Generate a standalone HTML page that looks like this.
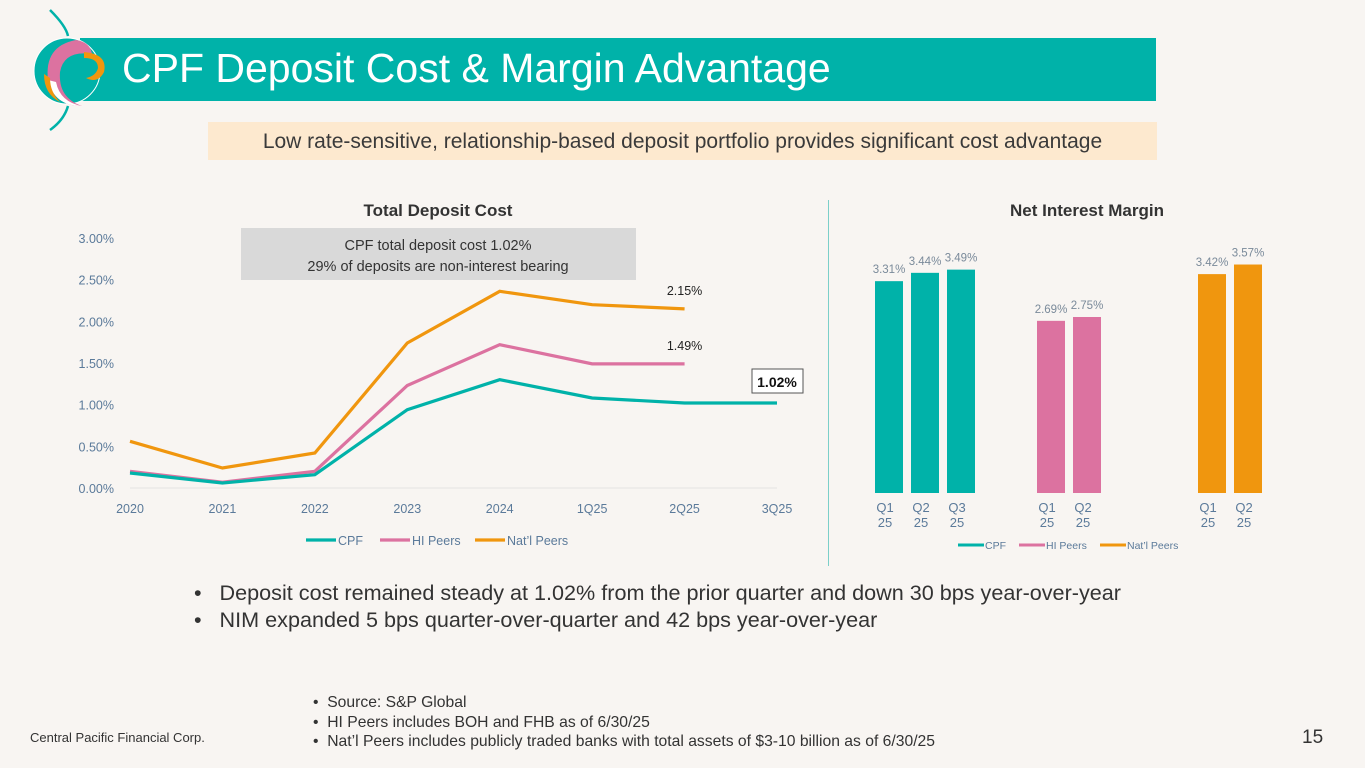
<!DOCTYPE html>
<html><head><meta charset="utf-8"><style>
body{margin:0;width:1365px;height:768px;background:#f8f5f2;font-family:"Liberation Sans",sans-serif;position:relative;overflow:hidden}
.abs{position:absolute}
</style></head><body>
<div class="abs" style="left:80px;top:38px;width:1076px;height:63px;background:#00b2a9"></div>
<svg class="abs" style="left:28px;top:8px" width="90" height="125" viewBox="0 0 90 125">
<path d="M22 2 Q38 18 40 28" stroke="#00b2a9" stroke-width="2.5" fill="none"/>
<path d="M22 122 Q36 112 40 98" stroke="#00b2a9" stroke-width="2.5" fill="none"/>
<circle cx="39" cy="63" r="33" fill="#00b2a9" stroke="#fff" stroke-width="1"/>
<path d="M48 32 Q16 38 20 72 Q26 98 54 98 Q30 90 32 64 Q36 42 64 46 Q62 34 48 32 Z" fill="#dc72a0"/>
<path d="M20 72 Q26 98 54 98 Q32 94 28 74 Z" fill="#fff"/>
<path d="M16 66 Q16 86 32 94 Q22 84 22 70 Z" fill="#f0960e"/>
<path d="M56 44 Q80 46 76 64 Q70 76 58 70 Q68 68 70 60 Q70 50 56 50 Z" fill="#f0960e"/>
<circle cx="58" cy="62" r="5" fill="#00b2a9"/>
</svg>
<div class="abs" style="left:122px;top:43px;color:#fff;font-size:41px;line-height:50px">CPF Deposit Cost &amp; Margin Advantage</div>
<div class="abs" style="left:208px;top:122px;width:949px;height:38px;background:#fde9cf;color:#3a3a3a;font-size:21px;line-height:40px;text-align:center">Low rate-sensitive, relationship-based deposit portfolio provides significant cost advantage</div>
<div class="abs" style="left:828px;top:200px;width:1px;height:366px;background:#7ccfc9"></div>

<svg class="abs" id="line" style="left:0;top:0" width="820" height="560"></svg>
<svg class="abs" id="bars" style="left:0;top:0;pointer-events:none" width="1365" height="560"></svg>

<div class="abs" style="left:194px;top:579px;font-size:21.6px;line-height:27px;color:#333">
<div>•&nbsp;&nbsp;&nbsp;Deposit cost remained steady at 1.02% from the prior quarter and down 30 bps year-over-year</div>
<div>•&nbsp;&nbsp;&nbsp;NIM expanded 5 bps quarter-over-quarter and 42 bps year-over-year</div></div>
<div class="abs" style="left:313px;top:693px;font-size:15.7px;line-height:19.5px;color:#333">
<div>•&nbsp;&nbsp;Source: S&amp;P Global</div><div>•&nbsp;&nbsp;HI Peers includes BOH and FHB as of 6/30/25</div><div>•&nbsp;&nbsp;Nat’l Peers includes publicly traded banks with total assets of $3-10 billion as of 6/30/25</div></div>
<div class="abs" style="left:30px;top:730px;font-size:13px;color:#333">Central Pacific Financial Corp.</div>
<div class="abs" style="left:1302px;top:727px;font-size:19px;color:#333">15</div>

<script>
const years=["2020","2021","2022","2023","2024","1Q25","2Q25","3Q25"];
const cpf=[0.18,0.06,0.16,0.94,1.30,1.08,1.02,1.02];
const hi=[0.20,0.07,0.20,1.23,1.72,1.49,1.49];
const natl=[0.56,0.24,0.42,1.74,2.36,2.20,2.15];
const yTicks=[0,0.5,1,1.5,2,2.5,3];
const nimCpf=[3.31,3.44,3.49];const nimCpfLbl=["Q1 25","Q2 25","Q3 25"];
const nimHi=[2.69,2.75];const nimHiLbl=["Q1 25","Q2 25"];
const nimNat=[3.42,3.57];const nimNatLbl=["Q1 25","Q2 25"];
const NS="http://www.w3.org/2000/svg";
function mk(svg,tag,a,txt){const e=document.createElementNS(NS,tag);for(const k in a)e.setAttribute(k,a[k]);if(txt!=null)e.textContent=txt;svg.appendChild(e);return e;}
const L=document.getElementById('line');
const x=i=>130+i*(647/7), y=v=>488-v*83.33;
let t=mk(L,'text',{x:438,y:216,'font-size':17,'text-anchor':'middle',fill:'#333','font-weight':'bold'},'Total Deposit Cost');


yTicks.forEach(v=>{const e=mk(L,'text',{x:114,y:y(v)+5,'font-size':12.5,'text-anchor':'end',fill:'#5b7a9a'},v.toFixed(2)+'%');

});
mk(L,'line',{x1:130,x2:777,y1:488,y2:488,stroke:'#e3e3e3','stroke-width':1});
years.forEach((s,i)=>{const e=mk(L,'text',{x:x(i),y:513,'font-size':12.5,'text-anchor':'middle',fill:'#5b7a9a'},s);

});
[[natl,'#f0960e','natl'],[hi,'#dc72a0','hi'],[cpf,'#00b2a9','cpf']].forEach(([d,c,n])=>{
const p=mk(L,'polyline',{points:d.map((v,i)=>x(i)+','+y(v)).join(' '),fill:'none',stroke:c,'stroke-width':3.2});

});
let a=mk(L,'text',{x:x(6),y:y(natl[6])-14,'font-size':12.5,'text-anchor':'middle',fill:'#222'},natl[6].toFixed(2)+'%');


a=mk(L,'text',{x:x(6),y:y(hi[6])-14,'font-size':12.5,'text-anchor':'middle',fill:'#222'},hi[6].toFixed(2)+'%');


mk(L,'rect',{x:752,y:y(cpf[7])-34,width:51,height:24,fill:'#fff',stroke:'#555'});
a=mk(L,'text',{x:777,y:y(cpf[7])-16,'font-size':14,'font-weight':'bold','text-anchor':'middle',fill:'#111'},cpf[7].toFixed(2)+'%');


const box=mk(L,'rect',{x:241,y:228,width:395,height:52,fill:'#d9d9d9'});


mk(L,'text',{x:438,y:250,'font-size':14.5,'text-anchor':'middle',fill:'#333'},'CPF total deposit cost 1.02%');
mk(L,'text',{x:438,y:271,'font-size':14.5,'text-anchor':'middle',fill:'#333'},'29% of deposits are non-interest bearing');
[['CPF','#00b2a9',306],['HI Peers','#dc72a0',380],['Nat’l Peers','#f0960e',475]].forEach(([n,c,lx])=>{
mk(L,'line',{x1:lx,x2:lx+30,y1:540,y2:540,stroke:c,'stroke-width':3.2});
const e=mk(L,'text',{x:lx+32,y:545,'font-size':12.5,fill:'#5b7a9a'},n);

});
const B=document.getElementById('bars');
const by=v=>493-v*64;
t=mk(B,'text',{x:1087,y:216,'font-size':17,'text-anchor':'middle',fill:'#333','font-weight':'bold'},'Net Interest Margin');


[[nimCpf,nimCpfLbl,875,'#00b2a9','cpf'],[nimHi,nimHiLbl,1037,'#dc72a0','hi'],[nimNat,nimNatLbl,1198,'#f0960e','natl']].forEach(([d,lb,x0,c,n])=>{
d.forEach((v,i)=>{const bx=x0+i*36;
const r=mk(B,'rect',{x:bx,y:by(v),width:28,height:v*64,fill:c});


mk(B,'text',{x:bx+14,y:by(v)-8,'font-size':11.5,'text-anchor':'middle',fill:'#7a8a9a'},v.toFixed(2)+'%');
const pr=lb[i].split(' ');
mk(B,'text',{x:bx+10,y:512,'font-size':13,'text-anchor':'middle',fill:'#5b7a9a'},pr[0]);
mk(B,'text',{x:bx+10,y:527,'font-size':13,'text-anchor':'middle',fill:'#5b7a9a'},pr[1]);});});
[['CPF','#00b2a9',958],['HI Peers','#dc72a0',1019],['Nat’l Peers','#f0960e',1100]].forEach(([n,c,lx])=>{
mk(B,'line',{x1:lx,x2:lx+26,y1:545,y2:545,stroke:c,'stroke-width':3});
const e=mk(B,'text',{x:lx+27,y:549,'font-size':10.5,fill:'#5b7a9a'},n);

});
</script>
</body></html>
